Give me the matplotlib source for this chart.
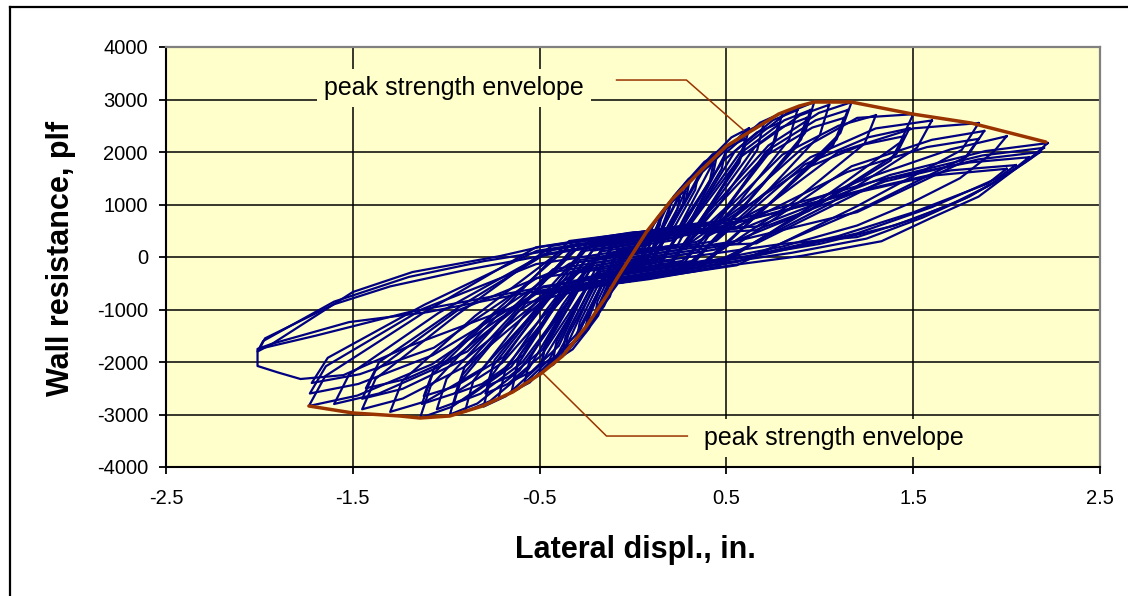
import matplotlib
matplotlib.use('Agg')
import matplotlib.pyplot as plt
from matplotlib.lines import Line2D

plt.rcParams['font.family'] = ['Liberation Sans', 'DejaVu Sans']

# ---------------- data ----------------
x_ticks = [-2.5, -1.5, -0.5, 0.5, 1.5, 2.5]
x_tick_labels = ['-2.5', '-1.5', '-0.5', '0.5', '1.5', '2.5']
y_ticks = [-4000, -3000, -2000, -1000, 0, 1000, 2000, 3000, 4000]
y_tick_labels = ['-4000', '-3000', '-2000', '-1000', '0', '1000', '2000', '3000', '4000']
x_grid = [-1.5, -0.5, 0.5, 1.5]
y_grid = [-3000, -2000, -1000, 0, 1000, 2000, 3000]

# peak strength envelope (in., plf)
env_disp = [-1.735, -1.5, -1.25, -1.14, -0.98, -0.805, -0.644, -0.489, -0.377, -0.249,
            -0.142, -0.088, 0.072, 0.211, 0.372, 0.5, 0.676, 0.78, 0.89, 0.97,
            1.168, 1.495, 1.81, 2.21]
env_force = [-2838, -2971, -3028, -3067, -3028, -2838, -2571, -2210, -1886, -1314,
             -743, -419, 476, 1105, 1676, 2114, 2495, 2724, 2876, 2952,
             2952, 2724, 2552, 2190]

# cyclic test record: one vertex list per cycle (displacement in., resistance plf)
loop_disp = [
    [0.1, 0.095, 0.065, 0.03, 0, -0.03, -0.062, -0.085, -0.1, -0.095, -0.065, -0.03, 0, 0.03, 0.062, 0.085, 0.1],
    [0.2, 0.19, 0.13, 0.06, 0, -0.042, -0.087, -0.119, -0.14, -0.133, -0.091, -0.042, 0, 0.06, 0.124, 0.17, 0.2],
    [0.3, 0.285, 0.195, 0.09, 0, -0.075, -0.155, -0.2125, -0.25, -0.2375, -0.1625, -0.075, 0, 0.09, 0.186, 0.255, 0.3],
    [0.28, 0.266, 0.182, 0.084, 0, -0.072, -0.149, -0.204, -0.24, -0.228, -0.156, -0.072, 0, 0.084, 0.174, 0.238, 0.28],
    [0.45, 0.4275, 0.2925, 0.135, 0, -0.114, -0.2356, -0.323, -0.38, -0.361, -0.247, -0.114, 0, 0.135, 0.279, 0.3825, 0.45],
    [0.43, 0.41, 0.28, 0.129, 0, -0.108, -0.223, -0.306, -0.36, -0.342, -0.234, -0.108, 0, 0.129, 0.267, 0.366, 0.43],
    [0.62, 0.589, 0.403, 0.186, 0, -0.15, -0.31, -0.425, -0.5, -0.475, -0.325, -0.15, 0, 0.186, 0.384, 0.527, 0.62],
    [0.6, 0.57, 0.39, 0.18, 0, -0.147, -0.304, -0.417, -0.49, -0.466, -0.319, -0.147, 0, 0.18, 0.372, 0.51, 0.6],
    [0.8, 0.76, 0.52, 0.24, 0, -0.195, -0.403, -0.553, -0.65, -0.618, -0.423, -0.195, 0, 0.24, 0.496, 0.68, 0.8],
    [0.78, 0.741, 0.507, 0.234, 0, -0.192, -0.397, -0.544, -0.64, -0.608, -0.416, -0.192, 0, 0.234, 0.484, 0.663, 0.78],
    [0.97, 0.92, 0.63, 0.29, 0, -0.24, -0.496, -0.68, -0.8, -0.76, -0.52, -0.24, 0, 0.29, 0.6, 0.825, 0.97],
    [0.95, 0.9, 0.62, 0.285, 0, -0.237, -0.49, -0.67, -0.79, -0.75, -0.51, -0.237, 0, 0.285, 0.59, 0.81, 0.95],
    [0.93, 0.88, 0.6, 0.28, 0, -0.234, -0.484, -0.663, -0.78, -0.741, -0.507, -0.234, 0, 0.28, 0.577, 0.79, 0.93],
    [1.17, 1.11, 0.76, 0.35, 0, -0.294, -0.608, -0.833, -0.98, -0.931, -0.637, -0.294, 0, 0.35, 0.725, 0.995, 1.17],
    [1.15, 1.09, 0.75, 0.345, 0, -0.288, -0.595, -0.816, -0.96, -0.912, -0.624, -0.288, 0, 0.345, 0.713, 0.978, 1.15],
    [1.13, 1.07, 0.73, 0.34, 0, -0.285, -0.589, -0.808, -0.95, -0.9, -0.618, -0.285, 0, 0.34, 0.7, 0.96, 1.13],
    [1.5, 1.43, 0.98, 0.45, 0, -0.342, -0.707, -0.969, -1.14, -1.083, -0.741, -0.342, 0, 0.45, 0.9, 1.2, 1.5],
    [1.48, 1.41, 0.96, 0.444, 0, -0.339, -0.7, -0.96, -1.13, -1.074, -0.735, -0.339, 0, 0.444, 0.92, 1.26, 1.48],
    [1.45, 1.38, 0.94, 0.435, 0, -0.336, -0.694, -0.952, -1.12, -1.064, -0.728, -0.336, 0, 0.435, 0.9, 1.23, 1.45],
    [1.85, 1.76, 1.2, 0.555, 0, -0.435, -0.9, -1.233, -1.45, -1.378, -0.943, -0.435, 0, 0.555, 1.1, 1.5, 1.85],
    [1.88, 1.79, 1.22, 0.564, 0, -0.435, -0.9, -1.233, -1.45, -1.378, -0.943, -0.435, 0, 0.564, 1.17, 1.6, 1.88],
    [1.85, 1.76, 1.2, 0.555, 0, -0.429, -0.887, -1.216, -1.43, -1.359, -0.93, -0.429, 0, 0.555, 1.147, 1.573, 1.85],
    [2.22, 2.15, 2.0, 1.85, 1.6, 1.33, 0.9, 0.5, 0.09, -0.52, -1.076, -1.475, -1.735, -1.648, -1.128, -0.52, 0, 0.666, 1.376, 1.887, 2.22],
    [2.2, 2.13, 1.97, 1.8, 1.55, 1.25, 0.85, 0.45, 0, -0.519, -1.073, -1.47, -1.73, -1.644, -1.125, -0.519, 0, 0.66, 1.364, 1.87, 2.2],
    [2.18, 2.1, 1.95, 1.78, 1.5, 1.2, 0.8, 0.4, 0, -0.516, -1.066, -1.462, -1.72, -1.634, -1.118, -0.516, 0, 0.654, 1.35, 1.85, 2.18],
    [2.12, 2.05, 1.9, 1.7, 1.4, 1.0, 0.5, 0, -0.6, -1.2, -1.55, -1.78, -1.9, -2.01, -2.01, -1.93, -1.5, -1.18, -0.71, -0.5, 0.035, 0.6, 1.3, 1.8, 2.12],
    [2.05, 1.95, 1.6, 1.2, 0.7, 0, -0.6, -1.1, -1.52, -1.93, -2.01, -1.98, -1.6, -1.2, -0.8, -0.4, 0, 0.6, 1.2, 1.7, 2.05],
    [2.0, 1.9, 1.5, 1.1, 0.6, 0, -0.6, -1.2, -1.7, -2.0, -1.97, -1.6, -1.3, -0.9, -0.4, 0, 0.5, 1.1, 1.6, 2.0],
    [0.15, 0.143, 0.098, 0.045, 0, -0.036, -0.074, -0.102, -0.12, -0.114, -0.078, -0.036, 0, 0.045, 0.093, 0.128, 0.15],
    [0.35, 0.333, 0.228, 0.105, 0, -0.09, -0.186, -0.255, -0.3, -0.285, -0.195, -0.09, 0, 0.105, 0.217, 0.298, 0.35],
    [0.5, 0.475, 0.325, 0.15, 0, -0.129, -0.267, -0.366, -0.43, -0.409, -0.28, -0.129, 0, 0.15, 0.31, 0.425, 0.5],
    [0.7, 0.665, 0.455, 0.21, 0, -0.174, -0.36, -0.493, -0.58, -0.551, -0.377, -0.174, 0, 0.21, 0.434, 0.595, 0.7],
    [0.88, 0.836, 0.572, 0.264, 0, -0.216, -0.446, -0.612, -0.72, -0.684, -0.468, -0.216, 0, 0.264, 0.546, 0.748, 0.88],
    [1.05, 1.0, 0.68, 0.315, 0, -0.27, -0.558, -0.765, -0.9, -0.855, -0.585, -0.27, 0, 0.315, 0.651, 0.893, 1.05],
    [1.3, 1.24, 0.85, 0.39, 0, -0.315, -0.651, -0.893, -1.05, -0.998, -0.683, -0.315, 0, 0.39, 0.8, 1.1, 1.3],
    [1.6, 1.52, 1.04, 0.48, 0, -0.39, -0.806, -1.105, -1.3, -1.235, -0.845, -0.39, 0, 0.48, 0.95, 1.3, 1.6],
    [2.0, 1.93, 1.75, 1.5, 1.2, 0.8, 0.4, 0, -0.48, -0.99, -1.36, -1.6, -1.52, -1.04, -0.48, 0, 0.6, 1.25, 1.7, 2.0],
    [0.25, 0.238, 0.163, 0.075, 0, -0.06, -0.124, -0.17, -0.2, -0.19, -0.13, -0.06, 0, 0.075, 0.155, 0.213, 0.25],
]
loop_force = [
    [500, 400, 190, -133, -150, -167, -360, -465, -500, -400, -190, 133, 150, 167, 360, 465, 500],
    [1000, 800, 380, -167, -200, -223, -533, -688, -740, -592, -281, 177, 200, 233, 720, 930, 1000],
    [1400, 1120, 532, -200, -250, -291, -936, -1209, -1300, -1040, -494, 209, 250, 300, 1008, 1302, 1400],
    [1250, 1000, 475, -134, -180, -220, -864, -1116, -1200, -960, -456, 140, 180, 226, 900, 1163, 1250],
    [1950, 1560, 741, -226, -300, -363, -1361, -1758, -1890, -1512, -718, 237, 300, 374, 1404, 1814, 1950],
    [1780, 1424, 676, -189, -260, -319, -1238, -1600, -1720, -1376, -654, 201, 260, 331, 1282, 1655, 1780],
    [2450, 1960, 931, -248, -350, -432, -1584, -2046, -2200, -1760, -836, 267, 350, 452, 1764, 2279, 2450],
    [2250, 1800, 855, -201, -300, -381, -1476, -1907, -2050, -1640, -779, 239, 320, 419, 1620, 2093, 2250],
    [2750, 2200, 1045, -268, -400, -497, -1850, -2390, -2570, -2056, -977, -7, 100, 232, 1980, 2558, 2750],
    [2550, 2040, 969, 79, -50, -156, -1692, -2186, -2350, -1880, -893, 254, 360, 489, 1836, 2372, 2550],
    [2950, 2360, 1121, -260, -420, -552, -2052, -2650, -2850, -2280, -1083, 288, 420, 580, 2124, 2744, 2950],
    [2800, 2240, 1064, -223, -380, -510, -1872, -2418, -2600, -2080, -988, -130, 0, 157, 2016, 2604, 2800],
    [2650, 2120, 1007, 203, 50, -79, -1764, -2279, -2450, -1960, -931, 211, 340, 493, 1908, 2465, 2650],
    [2950, 2360, 1121, -257, -450, -612, -2160, -2790, -3000, -2400, -1140, 288, 450, 643, 2124, 2744, 2950],
    [2800, 2240, 1064, -210, -400, -558, -2016, -2604, -2800, -2240, -1064, -258, -100, 90, 2016, 2604, 2800],
    [2650, 2120, 1007, 286, 100, -57, -1872, -2418, -2600, -2080, -988, 213, 360, 547, 1908, 2465, 2650],
    [2720, 2180, 1030, -190, -450, -638, -2208, -2852, -3067, -2454, -1165, 304, 460, 634, 2050, 2650, 2720],
    [2450, 1960, 931, -155, -400, -556, -2016, -2604, -2800, -2240, -1064, -126, 60, 304, 1764, 2280, 2450],
    [2300, 1840, 874, 139, -100, -285, -1908, -2465, -2650, -2120, -1007, 225, 380, 552, 1656, 2139, 2300],
    [2550, 2040, 969, -158, -450, -690, -2088, -2697, -2900, -2320, -1102, 210, 450, 542, 2000, 2450, 2550],
    [2400, 1920, 912, -90, -400, -639, -1944, -2511, -2700, -2160, -1026, -289, -50, 260, 1728, 2232, 2400],
    [2250, 1800, 855, 305, 0, -236, -1800, -2325, -2500, -2000, -950, 144, 380, 572, 1620, 2093, 2250],
    [2170, 1950, 1550, 1150, 750, 300, 20, -170, -420, -706, -2043, -2639, -2838, -2270, -1078, 184, 470, 580, 1562, 2018, 2170],
    [2080, 1880, 1500, 1150, 750, 350, 80, -130, -400, -685, -1872, -2418, -2600, -2080, -988, -136, 150, 259, 1498, 1934, 2080],
    [2000, 1800, 1450, 1120, 720, 380, 250, 50, -150, -400, -1728, -2232, -2400, -1920, -912, 116, 400, 508, 1440, 1860, 2000],
    [1900, 1700, 1350, 1000, 600, 250, -50, -400, -900, -1700, -2250, -2324, -2200, -2076, -1750, -1650, -667, -286, 19, 190, 476, 750, 1450, 1800, 1900],
    [1750, 1500, 950, 450, 50, -350, -700, -1050, -1240, -1650, -1800, -1600, -850, -380, -80, 150, 400, 700, 1250, 1650, 1750],
    [1680, 1400, 850, 400, 0, -300, -650, -1050, -1500, -1750, -1550, -900, -560, -250, 80, 330, 600, 1150, 1550, 1680],
    [750, 600, 285, -75, -100, -120, -446, -577, -620, -496, -236, 80, 100, 125, 540, 698, 750],
    [1600, 1280, 608, 8, -50, -100, -1116, -1442, -1550, -1240, -589, 0, 50, 108, 1152, 1488, 1600],
    [2100, 1680, 798, -45, -120, -191, -1440, -1860, -2000, -1600, -760, 49, 120, 195, 1512, 1953, 2100],
    [2550, 2040, 969, -64, -180, -276, -1728, -2232, -2400, -1920, -912, 104, 200, 316, 1836, 2372, 2550],
    [2800, 2240, 1064, -75, -220, -339, -1944, -2511, -2700, -2160, -1026, 121, 240, 385, 2016, 2604, 2800],
    [2900, 2320, 1102, -77, -250, -399, -2124, -2744, -2950, -2360, -1121, 111, 260, 433, 2088, 2697, 2900],
    [2700, 2160, 1026, -66, -280, -453, -2088, -2697, -2900, -2320, -1102, 127, 300, 515, 1950, 2500, 2700],
    [2600, 2080, 988, -36, -300, -515, -2124, -2744, -2950, -2360, -1121, 106, 320, 584, 1900, 2450, 2600],
    [2300, 2000, 1500, 1050, 600, 200, -80, -300, -560, -2016, -2600, -2800, -2240, -1064, 50, 330, 560, 1500, 2050, 2300],
    [1150, 920, 437, -48, -60, -70, -756, -977, -1050, -840, -399, 70, 80, 92, 828, 1070, 1150],
]

x_label = 'Lateral displ., in.'
y_label = 'Wall resistance, plf'
note_text = 'peak strength envelope'

# ---------------- figure ----------------
W, H = 1128, 596
fig = plt.figure(figsize=(W / 100, H / 100), dpi=100)
fig.patch.set_facecolor('white')

ax = fig.add_axes([166 / W, 1 - 467 / H, 934 / W, 420 / H])
ax.set_facecolor('#FFFFCC')
ax.set_xlim(-2.5, 2.5)
ax.set_ylim(-4000, 4000)

for gy in y_grid:
    ax.axhline(gy, color='black', lw=1.1, zorder=1)
for gx in x_grid:
    ax.axvline(gx, color='black', lw=1.1, zorder=1)

for xs, ys in zip(loop_disp, loop_force):
    ax.plot(xs, ys, color='#000080', lw=1.6, zorder=3, solid_joinstyle='round')

ax.plot(env_disp, env_force, color='#993300', lw=2.5, zorder=4, solid_capstyle='round')

ax.set_xticks(x_ticks)
ax.set_xticklabels(x_tick_labels)
ax.set_yticks(y_ticks)
ax.set_yticklabels(y_tick_labels)
ax.tick_params(axis='both', direction='out', length=5, width=1.3, labelsize=14.5,
               color='black', labelcolor='black')
ax.tick_params(axis='x', pad=11)
ax.tick_params(axis='y', pad=8)

for side in ['top', 'right']:
    ax.spines[side].set_color('#808080')
    ax.spines[side].set_linewidth(1.6)
for side in ['left', 'bottom']:
    ax.spines[side].set_color('black')
    ax.spines[side].set_linewidth(1.5)

# annotations
box = dict(facecolor='#FFFFCC', edgecolor='none', pad=5)
ax.text(-0.957, 3219, note_text, ha='center', va='center', fontsize=18, bbox=box, zorder=6)
ax.plot([-0.088, 0.286, 0.591], [3371, 3371, 2419], color='#993300', lw=1.1, zorder=6)
ax.text(1.075, -3448, note_text, ha='center', va='center', fontsize=18, bbox=box, zorder=6)
ax.plot([-0.489, -0.142, 0.291], [-2190, -3410, -3410], color='#993300', lw=1.1, zorder=6)

# axis titles
fig.text(635 / W, 1 - 550 / H, x_label, ha='center', va='center', fontsize=22, fontweight='bold')
fig.text(61 / W, 1 - 258 / H, y_label, ha='center', va='center', fontsize=22,
         fontweight='bold', rotation=90)

# outer chart frame (top and left visible)
fig.add_artist(Line2D([10 / W, 10 / W], [0, 1 - 7 / H], transform=fig.transFigure,
                      color='black', lw=1.6))
fig.add_artist(Line2D([10 / W, 1], [1 - 7 / H, 1 - 7 / H], transform=fig.transFigure,
                      color='black', lw=1.6))

fig.savefig('out.png', dpi=100, facecolor='white')
